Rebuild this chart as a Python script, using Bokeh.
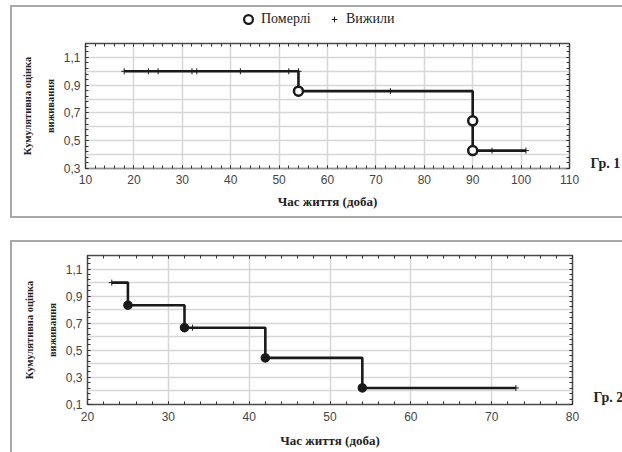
from bokeh.plotting import figure
from bokeh.layouts import column
from bokeh.models import (Range1d, SingleIntervalTicker, FixedTicker, LinearAxis,
                          CustomJSTickFormatter, Legend, LegendItem)
from bokeh.embed import file_html
from bokeh.resources import INLINE
import numpy as np

# ---------------- data ----------------
# Group 1
g1_step_x = [18, 54, 90, 90, 101]
g1_step_y = [1.0, 0.857, 0.643, 0.429, 0.429]
g1_dead_x = [54, 90, 90]
g1_dead_y = [0.857, 0.643, 0.429]
g1_cens_x = [18, 23, 25, 32, 33, 42, 52, 54, 73, 94, 101]
g1_cens_y = [1.0, 1.0, 1.0, 1.0, 1.0, 1.0, 1.0, 1.0, 0.857, 0.429, 0.429]
g1_yticks = [0.3, 0.5, 0.7, 0.9, 1.1]
g1_ytick_labels = ["0,3", "0,5", "0,7", "0,9", "1,1"]

# Group 2
g2_step_x = [23, 25, 32, 42, 54, 73]
g2_step_y = [1.0, 0.833, 0.667, 0.444, 0.222, 0.222]
g2_dead_x = [25, 32, 42, 54]
g2_dead_y = [0.833, 0.667, 0.444, 0.222]
g2_cens_x = [23, 33, 73]
g2_cens_y = [1.0, 0.667, 0.222]
g2_yticks = [0.1, 0.3, 0.5, 0.7, 0.9, 1.1]
g2_ytick_labels = ["0,1", "0,3", "0,5", "0,7", "0,9", "1,1"]

legend_labels = ["Померлі", "Вижили"]
x_label = "Час життя (доба)"
y_label_lines = ["Кумулятивна оцінка", "виживання"]
group_labels = ["Гр. 1", "Гр. 2"]

SANS = "Liberation Sans"
SERIF = "Liberation Serif"
LINE = "#1a1a1a"
BORDER = "#a9a9a9"


def fmt_from(vals, labels):
    return CustomJSTickFormatter(args=dict(tvals=vals, tlabels=labels), code="""
        let best = 0, d = 1e9;
        for (let i = 0; i < tvals.length; i++) {
            const dd = Math.abs(tvals[i] - tick);
            if (dd < d) { d = dd; best = i; }
        }
        return tlabels[best];
    """)


def style_label(ax, size):
    ax.axis_label_text_font = SERIF
    ax.axis_label_text_font_style = "bold"
    ax.axis_label_text_font_size = size
    ax.axis_label_text_color = "#222222"


def make_fig(xr, yr, yticks, ylabels, glabel, gy, fw, fh, bl, br, bt, bb,
             xls, xals):
    p = figure(x_range=Range1d(*xr), y_range=Range1d(*yr),
               frame_width=fw, frame_height=fh,
               min_border_left=bl, min_border_right=br,
               min_border_top=bt, min_border_bottom=bb,
               output_backend="svg", toolbar_location=None)
    p.border_fill_color = None
    p.background_fill_color = "white"
    p.outline_line_color = "#4a4a4a"
    p.outline_line_width = 1.5
    xt = SingleIntervalTicker(interval=10, num_minor_ticks=5)
    yminor = list(np.arange(yr[0], yr[1] + 1e-9, 0.04))
    yt = FixedTicker(ticks=yticks, minor_ticks=yminor)
    p.xgrid.ticker = xt
    p.ygrid.ticker = SingleIntervalTicker(interval=0.1)
    for g in (p.xgrid[0], p.ygrid[0]):
        g.grid_line_color = "#d6d6d6"
        g.grid_line_width = 1.5
    xa = p.below[0]
    ya = p.left[0]
    xa.ticker = xt
    ya.ticker = yt
    ya.formatter = fmt_from(yticks, ylabels)
    # mirror axes (top: ticks only; right: ticks + group label)
    top = LinearAxis(ticker=xt)
    rt = FixedTicker(ticks=[gy], minor_ticks=yminor + list(yticks))
    right = LinearAxis(ticker=rt, formatter=fmt_from([gy], [glabel]))
    p.add_layout(top, "above")
    p.add_layout(right, "right")
    for ax in (xa, ya, top, right):
        ax.axis_line_color = None
        ax.major_tick_in = 3
        ax.major_tick_out = 0
        ax.minor_tick_in = 3
        ax.minor_tick_out = 0
        ax.major_tick_line_color = "#333333"
        ax.minor_tick_line_color = "#333333"
        ax.major_label_text_font = SANS
        ax.major_label_text_font_size = "12px"
        ax.major_label_text_color = "#444444"
    top.major_label_text_color = None
    top.major_label_standoff = 0
    right.major_tick_in = 0
    right.major_label_standoff = 21
    right.major_label_text_font = SERIF
    right.major_label_text_font_style = "bold"
    right.major_label_text_font_size = "14px"
    right.major_label_text_color = "#222222"
    xa.major_label_standoff = xls
    xa.axis_label = x_label
    style_label(xa, "13px")
    xa.axis_label_standoff = xals
    # y label: inner line on the main axis, outer line on a bare extra axis
    ya.major_label_standoff = 5
    ya.axis_label = y_label_lines[1]
    style_label(ya, "10.5px")
    ya.axis_label_standoff = 5
    outer = LinearAxis(axis_label=y_label_lines[0])
    outer.axis_line_color = None
    outer.major_tick_in = 0
    outer.major_tick_out = 0
    outer.minor_tick_in = 0
    outer.minor_tick_out = 0
    outer.major_label_text_color = None
    outer.major_label_standoff = 0
    style_label(outer, "10.5px")
    outer.axis_label_standoff = 9
    p.add_layout(outer, "left")
    return p


# ---------- legend strip (top of group-1 panel) ----------
pl = figure(width=612, height=30, x_range=Range1d(0, 1), y_range=Range1d(0, 1),
            x_axis_location=None, y_axis_location=None, min_border=0,
            output_backend="svg", toolbar_location=None)
pl.border_fill_color = None
pl.background_fill_color = None
pl.outline_line_color = None
pl.grid.visible = False
# off-range proxies that only lend their style to the legend swatches
lg_dead = pl.scatter([-1], [-1], marker="circle", size=9, fill_color="white",
                     line_color=LINE, line_width=2.2)
lg_cens = pl.scatter([-1], [-1], marker="cross", size=6, line_color=LINE,
                     line_width=1)
common = dict(orientation="horizontal", label_text_font=SERIF,
              label_text_font_size="14px", label_text_color="#222222",
              padding=0, margin=0, border_line_color=None,
              background_fill_alpha=0)
leg1 = Legend(items=[LegendItem(label=legend_labels[0], renderers=[lg_dead])],
              location=(152, 5), glyph_width=22, glyph_height=22,
              label_height=22, label_standoff=2, **common)
leg2 = Legend(items=[LegendItem(label=legend_labels[1], renderers=[lg_cens])],
              location=(242, 8), glyph_width=14, glyph_height=14,
              label_height=14, label_standoff=5, **common)
pl.add_layout(leg1)
pl.add_layout(leg2)

# ---------- Group 1 ----------
p1 = make_fig((10, 110), (0.3, 1.2), g1_yticks, g1_ytick_labels,
              group_labels[0], 0.338, 484, 125, 75, 53, 8, 50, 6, 7)
p1.step(g1_step_x, g1_step_y, mode="after", line_width=2.6, line_color=LINE)
p1.scatter(g1_dead_x, g1_dead_y, marker="circle", size=9,
           fill_color="white", line_color=LINE, line_width=2.5)
p1.scatter(g1_cens_x, g1_cens_y, marker="cross", size=6,
           line_color=LINE, line_width=1)

panel1 = column(pl, p1, spacing=0, margin=(5, 0, 0, 10))
panel1.styles = {"box-shadow": f"inset 2px 2px 0 {BORDER}, inset 0 -2px 0 {BORDER}"}

# ---------- Group 2 ----------
p2 = make_fig((20, 80), (0.1, 1.2), g2_yticks, g2_ytick_labels,
              group_labels[1], 0.154, 485, 149, 77, 50, 15, 48, 7, 9)
p2.step(g2_step_x, g2_step_y, mode="after", line_width=2.6, line_color=LINE)
p2.scatter(g2_dead_x, g2_dead_y, marker="circle", size=8,
           fill_color=LINE, line_color=LINE, line_width=1.5)
p2.scatter(g2_cens_x, g2_cens_y, marker="cross", size=6,
           line_color=LINE, line_width=1)
p2.margin = (22, 0, 0, 10)
p2.styles = {"box-shadow": f"inset 2px 2px 0 {BORDER}"}

layout = column(panel1, p2, spacing=0)
open("out.html", "w").write(file_html(layout, INLINE))
